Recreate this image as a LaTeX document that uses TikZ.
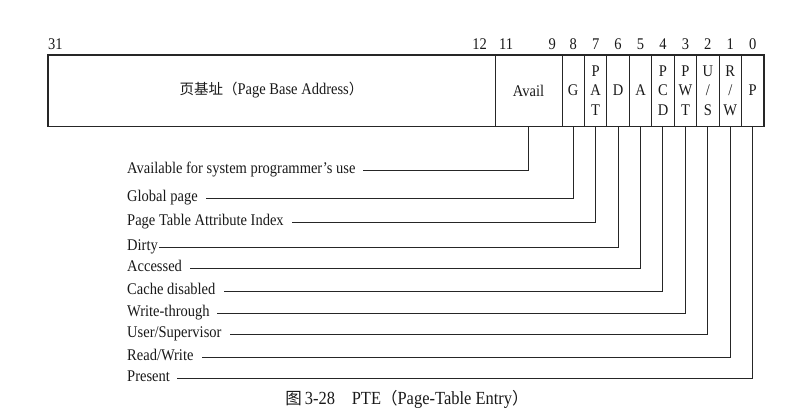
\documentclass[tikz,border=0pt]{standalone}
\usepackage{fontspec}
\setmainfont[FakeStretch=0.89]{Liberation Serif}
\newfontfamily\cjk{Noto Sans CJK SC}
\begin{document}
\begin{tikzpicture}[x=1pt,y=-1pt,
  ink/.style={draw=black!85, line width=1pt},
  cell/.style={ink, rectangle, inner sep=0pt, minimum height=71pt, text=black!90, font=\fontsize{16.3}{19.5}\selectfont, align=center},
  bitno/.style={inner sep=0pt, text=black!90, font=\fontsize{16.3}{16}\selectfont, text height=11pt, text depth=0pt},
  lbl/.style={inner sep=0pt, anchor=west, text=black!90, font=\fontsize{16.3}{16}\selectfont, text height=10.5pt, text depth=3.5pt},
  conn/.style={ink}
]
\useasboundingbox (0,0) rectangle (810,416);
\def\cw{22.44}
% cells
\node[cell, minimum width=447pt] (base) at (271.5,90.5) {{\cjk\fontsize{14.5}{16}\selectfont 页基址（}Page Base Address{\cjk\fontsize{14.5}{16}\selectfont ）}};
\node[cell, minimum width=67pt] (avail) at (528.5,90.5) {Avail};
\node[cell, minimum width=\cw pt] (G)   at (562+0.5*\cw,90.5) {G};
\node[cell, minimum width=\cw pt] (PAT) at (562+1.5*\cw,90.5) {P\\A\\T};
\node[cell, minimum width=\cw pt] (D)   at (562+2.5*\cw,90.5) {D};
\node[cell, minimum width=\cw pt] (A)   at (562+3.5*\cw,90.5) {A};
\node[cell, minimum width=\cw pt] (PCD) at (562+4.5*\cw,90.5) {P\\C\\D};
\node[cell, minimum width=\cw pt] (PWT) at (562+5.5*\cw,90.5) {P\\W\\T};
\node[cell, minimum width=\cw pt] (US)  at (562+6.5*\cw,90.5) {U\\/\\S};
\node[cell, minimum width=\cw pt] (RW)  at (562+7.5*\cw,90.5) {R\\/\\W};
\node[cell, minimum width=\cw pt] (P)   at (562+8.5*\cw,90.5) {P};
\draw[draw=black!85, line width=1.4pt] (base.north west) rectangle (P.south east);
% bit numbers
\node[bitno, anchor=south west] (n31) at (48,50) {31};
\node[bitno, anchor=south east] (n12) at (487,50) {12};
\node[bitno, anchor=south west] (n11) at (499,50) {11};
\node[bitno, anchor=south east] (n9)  at (556,50) {9};
\node[bitno, anchor=south] (n8) at (G.north |- 0,50) {8};
\node[bitno, anchor=south] (n7) at (PAT.north |- 0,50) {7};
\node[bitno, anchor=south] (n6) at (D.north |- 0,50) {6};
\node[bitno, anchor=south] (n5) at (A.north |- 0,50) {5};
\node[bitno, anchor=south] (n4) at (PCD.north |- 0,50) {4};
\node[bitno, anchor=south] (n3) at (PWT.north |- 0,50) {3};
\node[bitno, anchor=south] (n2) at (US.north |- 0,50) {2};
\node[bitno, anchor=south] (n1) at (RW.north |- 0,50) {1};
\node[bitno, anchor=south] (n0) at (P.north |- 0,50) {0};
% labels
\node[lbl] (lAvail) at (127,170) {Available for system programmer's use};
\node[lbl] (lG)     at (127,198) {Global page};
\node[lbl] (lPAT)   at (127,222) {Page Table Attribute Index};
\node[lbl] (lD)     at (127,247) {Dirty};
\node[lbl] (lA)     at (127,268) {Accessed};
\node[lbl] (lPCD)   at (127,291) {Cache disabled};
\node[lbl] (lPWT)   at (127,313) {Write-through};
\node[lbl] (lUS)    at (127,334) {User/Supervisor};
\node[lbl] (lRW)    at (127,357) {Read/Write};
\node[lbl] (lP)     at (127,378) {Present};
% connectors
\draw[conn] (avail.south) |- ([xshift=7pt]lAvail.east);
\draw[conn] (G.south)   |- ([xshift=8pt]lG.east);
\draw[conn] (PAT.south) |- ([xshift=8pt]lPAT.east);
\draw[conn] (D.south)   |- ([xshift=0.5pt]lD.east);
\draw[conn] (A.south)   |- ([xshift=8pt]lA.east);
\draw[conn] (PCD.south) |- ([xshift=8pt]lPCD.east);
\draw[conn] (PWT.south) |- ([xshift=7pt]lPWT.east);
\draw[conn] (US.south)  |- ([xshift=8pt]lUS.east);
\draw[conn] (RW.south)  |- ([xshift=8pt]lRW.east);
\draw[conn] (P.south)   |- ([xshift=7pt]lP.east);
% caption
\node[inner sep=0pt, text=black!90, font=\fontsize{18.5}{19}\selectfont] (cap) at (407,399) {{\cjk\fontsize{16.5}{19}\selectfont 图}\,3-28\hspace{0.9em}PTE{\cjk\fontsize{16.5}{19}\selectfont （}Page-Table Entry{\cjk\fontsize{16.5}{19}\selectfont ）}};
\end{tikzpicture}
\end{document}
